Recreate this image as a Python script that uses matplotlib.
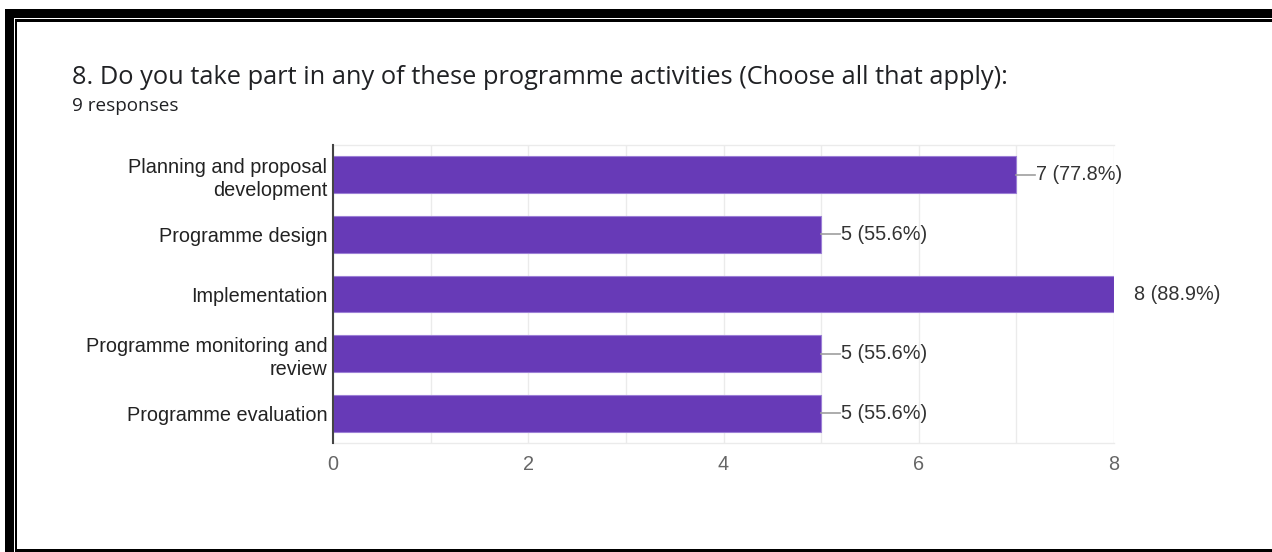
import matplotlib
matplotlib.use("Agg")
import matplotlib.pyplot as plt
from matplotlib.patches import Rectangle

# Survey data
categories = [
    "Planning and proposal\ndevelopment",
    "Programme design",
    "Implementation",
    "Programme monitoring and\nreview",
    "Programme evaluation",
]
counts = [7, 5, 8, 5, 5]
total_responses = 9
x_ticks = [0, 2, 4, 6, 8]

title = "8. Do you take part in any of these programme activities (Choose all that apply):"
subtitle = f"{total_responses} responses"

W, H = 1272, 552
fig = plt.figure(figsize=(W / 100, H / 100), dpi=100)
fig.patch.set_facecolor("white")


def px_rect(x0, y0, x1, y1, color="black"):
    """Rectangle given in pixel coordinates measured from the top-left corner."""
    fig.add_artist(Rectangle((x0 / W, 1 - y1 / H), (x1 - x0) / W, (y1 - y0) / H,
                             transform=fig.transFigure, facecolor=color,
                             edgecolor="none", zorder=10))


# Frame around the card
px_rect(5, 9, W, 18)
px_rect(15, 19.5, W, 21.5)
px_rect(5, 9, 14, H)
px_rect(15, 19.5, 17, H)
px_rect(15, 549, W, H)

# Plot area
ax = fig.add_axes([333 / W, 1 - 443 / H, (1114 - 333) / W, (443 - 145) / H])
ypos = list(range(len(categories)))
bar_color = "#673ab7"
ax.barh(ypos, counts, height=0.62, color=bar_color, edgecolor="#9c7fd6",
        linewidth=0.8, zorder=3)
ax.set_ylim(len(categories) - 0.5, -0.5)
ax.set_xlim(0, max(x_ticks))

fs = 14.3
ax.set_yticks(ypos)
ax.set_yticklabels(categories, fontsize=fs, color="#222222",
                   family="Liberation Sans", linespacing=1.3, ha="right")
ax.set_xticks(x_ticks)
ax.set_xticklabels([str(t) for t in x_ticks], fontsize=fs, color="#666666",
                   family="Liberation Sans")
ax.set_xticks(range(0, max(x_ticks) + 1), minor=True)
ax.tick_params(axis="y", length=0, pad=4)
ax.tick_params(axis="x", which="both", length=0, pad=9)
ax.grid(axis="x", which="both", color="#ebebeb", linewidth=1, zorder=0)

for side in ("top", "right", "bottom"):
    ax.spines[side].set_color("#ebebeb")
    ax.spines[side].set_linewidth(1)
ax.spines["right"].set_visible(False)
ax.spines["left"].set_color("#444444")
ax.spines["left"].set_linewidth(1.5)
ax.spines["left"].set_zorder(5)

# Value labels with short leader lines
unit_px = (1114 - 333) / max(x_ticks)
lead = 20 / unit_px
xmax = max(x_ticks)
for y, c in zip(ypos, counts):
    pct = 100 * c / total_responses
    if c < xmax:
        ax.plot([c, c + lead * 0.95], [y, y], color="#9e9e9e", linewidth=1.2,
                zorder=4, clip_on=False)
    ax.text(c + lead, y, f"{c} ({pct:.1f}%)", va="center", ha="left",
            fontsize=fs, color="#333333", family="Liberation Sans",
            clip_on=False)

# Header text
fig.text(72 / W, 1 - 77 / H, title, fontsize=18.3, color="#202124",
         family="Open Sans", va="center", ha="left")
fig.text(72 / W, 1 - 106 / H, subtitle, fontsize=13.6, color="#202124",
         family="Open Sans", va="center", ha="left")

fig.savefig("out.png", dpi=100, facecolor="white")
